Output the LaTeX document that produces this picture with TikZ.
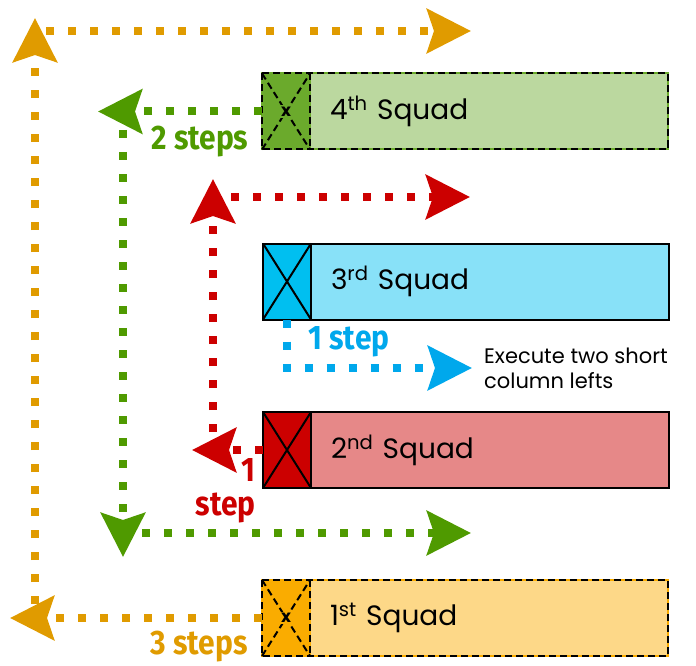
\documentclass[tikz,border=0pt]{standalone}
\usepackage{fontspec}
\setmainfont{Poppins}
\newfontfamily\stepfont[FakeStretch=0.88]{Fira Sans}
\usetikzlibrary{arrows.meta,positioning}

\definecolor{dotOrange}{HTML}{E09B00}
\definecolor{fillOrange}{HTML}{FDD888}
\definecolor{flagOrange}{HTML}{FAAC00}
\definecolor{dotGreen}{HTML}{4F9A00}
\definecolor{fillGreen}{HTML}{BBD89F}
\definecolor{flagGreen}{HTML}{6BAA2C}
\definecolor{dotRed}{HTML}{CC0000}
\definecolor{fillRed}{HTML}{E68888}
\definecolor{dotBlue}{HTML}{00A8EC}
\definecolor{fillBlue}{HTML}{88E1F8}
\definecolor{flagBlue}{HTML}{00BFF0}

\tikzset{
  move/.style={line width=8pt, dash pattern=on 8pt off 14pt,
    -{Stealth[length=44pt,width=44pt,inset=7pt]}},
  flag/.style={minimum width=48pt, minimum height=76pt, inner sep=0pt, outer sep=0pt, line width=2pt},
  squad/.style={minimum width=358pt, minimum height=76pt, inner sep=0pt, outer sep=0pt,
    text width=318pt, align=left, line width=2pt, font=\fontsize{28}{30}\selectfont},
  steps/.style={inner sep=0pt, font=\stepfont\bfseries\fontsize{34}{28}\selectfont},
  dashbox/.style={black, line width=2pt, dash pattern=on 7pt off 4pt},
}

\begin{document}
\begin{tikzpicture}[x=1pt, y=-1pt]
  \useasboundingbox (0,0) rectangle (696,666);

  % squads
  \node[flag, fill=flagGreen, draw=flagGreen] (x4) at (286,111.5) {};
  \node[squad, fill=fillGreen, draw=flagGreen, right=0pt of x4] (s4) {4\textsuperscript{th} Squad};
  \node[flag, fill=flagBlue, draw=black] (x3) at (287,281.5) {};
  \node[squad, fill=fillBlue, draw=black, right=0pt of x3] (s3) {3\textsuperscript{rd} Squad};
  \node[flag, fill=dotRed, draw=black] (x2) at (287,450) {};
  \node[squad, fill=fillRed, draw=black, right=0pt of x2] (s2) {2\textsuperscript{nd} Squad};
  \node[flag, fill=flagOrange, draw=flagOrange] (x1) at (286,618) {};
  \node[squad, fill=fillOrange, draw=flagOrange, right=0pt of x1] (s1) {1\textsuperscript{st} Squad};

  \foreach \n in {2,3} {
    \draw[line width=2pt] (x\n.north west) -- (x\n.south east) (x\n.south west) -- (x\n.north east);
  }
  \foreach \n/\c in {1/flagOrange,4/flagGreen} {
    \draw[dashbox] (x\n.north west) rectangle (s\n.south east) (x\n.north east) -- (x\n.south east);
    \draw[dashbox] (x\n.north west) -- (x\n.south east) (x\n.south west) -- (x\n.north east);
    \node[fill=\c, inner sep=1.5pt, font=\bfseries\fontsize{17}{17}\selectfont] at (x\n) {x};
  }

  % free ends of the moves
  \coordinate (o1) at (10,618);
  \coordinate (o2) at (35,604);
  \coordinate (o3) at (35,18);
  \coordinate (o4) at (46,31);
  \coordinate (o5) at (471,31);
  \coordinate (g1) at (98,111.5);
  \coordinate (g2) at (123,130);
  \coordinate (g3) at (123,557);
  \coordinate (g4) at (142,533);
  \coordinate (g5) at (471,533);
  \coordinate (r1) at (192,450);
  \coordinate (r2) at (213,432);
  \coordinate (r3) at (213,179);
  \coordinate (r4) at (231,197);
  \coordinate (r5) at (470,197);
  \coordinate (b1) at (472,368);

  % moves
  \draw[move, dotOrange] (x1.west) -- (o1);
  \draw[move, dotOrange] (o2) -- (o3);
  \draw[move, dotOrange] (o4) -- (o5);
  \draw[move, dotGreen] (x4.west) -- (g1);
  \draw[move, dotGreen] (g2) -- (g3);
  \draw[move, dotGreen] (g4) -- (g5);
  \draw[move, dotRed] (x2.west) -- (r1);
  \draw[move, dotRed] (r2) -- (r3);
  \draw[move, dotRed] (r4) -- (r5);
  \draw[move, dotBlue] (x3.south) |- (b1);

  % labels
  \node[steps, text=dotGreen] (l4) at (200,142) {2 steps};
  \node[steps, text=dotBlue] (l3) at (349,342) {1 step};
  \node[steps, text=dotRed, align=right, anchor=east] (l2) at (256,491) {1\\[6pt]step};
  \node[steps, text=dotOrange] (l1) at (199,647) {3 steps};
  \node[align=left, anchor=west, inner sep=0pt, font=\fontsize{21}{25}\selectfont] (note) at (484,368)
    {Execute two short\\column lefts};
\end{tikzpicture}
\end{document}
